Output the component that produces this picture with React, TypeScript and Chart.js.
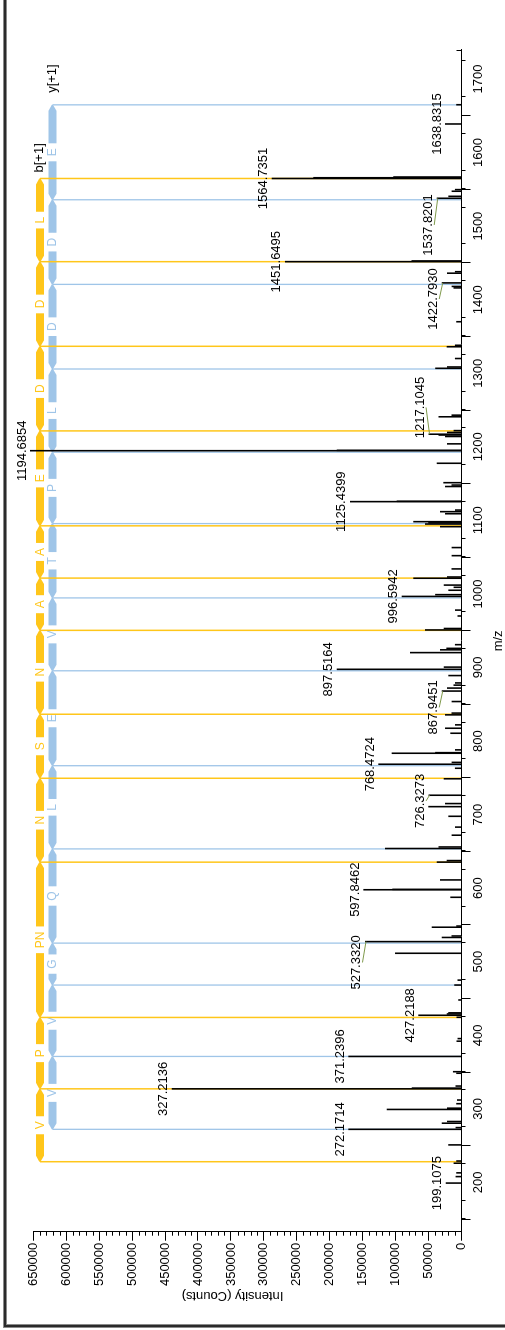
import React, { useEffect, useRef } from "react";
import { Chart, registerables } from "chart.js";

Chart.register(...registerables);

// ---------- data ----------
const mzRange = [133, 1739.4];
const intensityRange = [0, 650000];
const mzTicks = [200, 300, 400, 500, 600, 700, 800, 900, 1000, 1100, 1200, 1300, 1400, 1500, 1600, 1700];
const intensityTicks = [0, 50000, 100000, 150000, 200000, 250000, 300000, 350000, 400000, 450000, 500000, 550000, 600000, 650000];
const mzMinorStep = 25;
const intensityMinorStep = 10000;

const peakMz = [
  199.1075, 207.9, 213.0, 226.1, 229.1, 251.0, 272.1714, 274.5, 280.5, 282.8,
  299.2, 300.9, 307.0, 312.0, 327.2136, 328.21, 331.0, 348.4, 350.5, 371.2396,
  392.0, 395.5, 424.5, 427.2188, 429.0, 430.5, 448.0, 468.3, 475.0, 511.5,
  527.332, 533.0, 535.0, 546.9, 548.5, 587.6, 597.8462, 598.35, 611.2, 635.4,
  637.5, 653.9, 656.0, 672.0, 683.0, 697.7, 710.8, 715.0, 726.3273, 748.7,
  763.0, 768.4724, 771.0, 783.4, 784.2, 788.0, 810.6, 817.4, 822.0, 835.6,
  838.0, 853.7, 867.9451, 872.0, 876.0, 879.0, 889.0, 897.5164, 900.5, 920.2,
  924.0, 926.0, 931.0, 951.0, 953.0, 970.0, 978.0, 996.5942, 999.0, 1005.0,
  1009.0, 1012.0, 1021.3, 1023.0, 1034.0, 1052.0, 1063.0, 1091.4, 1095.0, 1096.6,
  1098.2, 1109.0, 1111.8, 1114.0, 1125.4399, 1125.94, 1146.0, 1148.0, 1151.2, 1177.6,
  1194.6854, 1195.19, 1204.0, 1214.0, 1216.0, 1217.1045, 1219.5, 1222.0, 1240.8, 1243.0,
  1306.7, 1308.5, 1320.0, 1336.0, 1338.0, 1370.0, 1416.0, 1418.0, 1422.793, 1436.0,
  1438.0, 1451.6495, 1452.65, 1537.8201, 1540.5, 1547.4, 1549.6, 1564.7351, 1565.74, 1566.74,
  1638.8315, 1665.0,
];
const peakIntensity = [
  24000, 9000, 8000, 12000, 8000, 20000, 171800, 9000, 30000, 22000,
  113500, 22000, 8000, 7000, 439900, 75600, 9000, 8000, 13000, 171800,
  7600, 6000, 7600, 65600, 22500, 20000, 5000, 11000, 6000, 100900,
  146500, 30000, 15000, 45200, 8000, 17000, 149000, 105000, 32600, 37600,
  22500, 116100, 35000, 15000, 10000, 20000, 50400, 25000, 50000, 27000,
  10000, 126300, 15000, 106000, 40000, 10000, 17000, 25000, 10000, 25000,
  15000, 15000, 30000, 22000, 12000, 10000, 20000, 189400, 27000, 78200,
  32600, 23000, 10000, 55400, 27000, 6000, 10000, 90800, 40000, 20000,
  12000, 27000, 73200, 22000, 15000, 15000, 15000, 32600, 55400, 50400,
  73200, 25000, 32600, 10000, 169300, 98400, 25000, 15000, 27600, 37600,
  655000, 189400, 22000, 25000, 35000, 50000, 22000, 12000, 34900, 15000,
  39900, 22000, 10000, 22500, 10000, 8000, 12000, 15000, 30000, 22000,
  10000, 268000, 76000, 37600, 20000, 15000, 10000, 288100, 225000, 103500,
  25000, 8000,
];

const labeledMz = [
  199.1075, 272.1714, 327.2136, 371.2396, 427.2188, 527.332, 597.8462, 726.3273, 768.4724, 867.9451,
  897.5164, 996.5942, 1125.4399, 1194.6854, 1217.1045, 1422.793, 1451.6495, 1537.8201, 1564.7351, 1638.8315,
];
const labelAnchorMz = [
  199.1075, 272.1714, 327.2136, 371.2396, 427.2188, 499.0, 597.8462, 718.6, 768.4724, 845.7,
  897.5164, 996.5942, 1125.4399, 1194.6854, 1253.5, 1400.9, 1451.6495, 1501.6, 1564.7351, 1638.8315,
];

const bIonMz = [228.14, 327.21, 424.26, 635.36, 749.4, 836.44, 950.48, 1021.52, 1092.55, 1221.6, 1336.62, 1451.65, 1564.74];
const bResidues = ["V", "P", "PN", "N", "S", "N", "A", "A", "E", "D", "D", "L"];
const yIonMz = [272.17, 371.24, 468.29, 525.31, 653.37, 766.46, 895.5, 994.57, 1095.62, 1192.67, 1305.75, 1420.78, 1535.81, 1664.85];
const yResidues = ["V", "V", "G", "Q", "L", "E", "V", "T", "P", "L", "D", "D", "E"];
const bRowLevel = 640000;
const yRowLevel = 621000;
const bSeriesName = "b[+1]";
const ySeriesName = "y[+1]";
const xTitle = "m/z";
const yTitle = "Intensity (Counts)";

// ---------- style ----------
const FONT = '"Liberation Sans", Arial, sans-serif';
const GOLD = "#FFC61A";
const BLUE = "#9FC5E8";
const W = 1330;
const H = 505;

function intensityAt(m: number): number {
  let best = 0;
  let bd = Infinity;
  peakMz.forEach((p, i) => {
    const d = Math.abs(p - m);
    if (d < bd) {
      bd = d;
      best = peakIntensity[i];
    }
  });
  return best;
}

function drawBar(ctx: CanvasRenderingContext2D, a: number, b: number, v: number, pointAtStart: boolean) {
  const hh = 4;
  const len = b - a;
  if (len <= 0.5) return;
  const t = Math.min(6, len);
  ctx.beginPath();
  if (pointAtStart) {
    ctx.moveTo(a, v - 0.6);
    ctx.lineTo(a + t, v - hh);
    ctx.lineTo(b, v - hh);
    ctx.lineTo(b, v + hh);
    ctx.lineTo(a + t, v + hh);
    ctx.lineTo(a, v + 0.6);
  } else {
    ctx.moveTo(b, v - 0.6);
    ctx.lineTo(b - t, v - hh);
    ctx.lineTo(a, v - hh);
    ctx.lineTo(a, v + hh);
    ctx.lineTo(b - t, v + hh);
    ctx.lineTo(b, v + 0.6);
  }
  ctx.closePath();
  ctx.fill();
}

function drawRow(chart: any, ions: number[], residues: string[], level: number, color: string) {
  const ctx: CanvasRenderingContext2D = chart.ctx;
  const xs = chart.scales.x;
  const ys = chart.scales.y;
  const v = ys.getPixelForValue(level);
  ctx.save();
  ctx.fillStyle = color;
  ctx.font = `12px ${FONT}`;
  ctx.textAlign = "center";
  ctx.textBaseline = "middle";
  for (let i = 0; i < residues.length; i++) {
    const ua = xs.getPixelForValue(ions[i]);
    const ub = xs.getPixelForValue(ions[i + 1]);
    const mid = (ua + ub) / 2;
    const tw = ctx.measureText(residues[i]).width;
    const gap = tw / 2 + 5;
    drawBar(ctx, ua, mid - gap, v, true);
    drawBar(ctx, mid + gap, ub, v, false);
    ctx.fillText(residues[i], mid, v + 0.5);
  }
  ctx.restore();
}

const specPlugin = {
  id: "specPlugin",
  beforeDraw(chart: any) {
    const ctx: CanvasRenderingContext2D = chart.ctx;
    ctx.save();
    ctx.fillStyle = "#ffffff";
    ctx.fillRect(0, 0, chart.width, chart.height);
    ctx.fillStyle = "#8a8a8a";
    ctx.fillRect(2, 3, chart.width, 4);
    ctx.fillRect(2, 3, 4, chart.height);
    ctx.fillStyle = "#2a2a2a";
    ctx.fillRect(3, 4, chart.width, 2);
    ctx.fillRect(3, 4, 2, chart.height);
    ctx.restore();
  },
  beforeDatasetsDraw(chart: any) {
    drawRow(chart, bIonMz, bResidues, bRowLevel, GOLD);
    drawRow(chart, yIonMz, yResidues, yRowLevel, BLUE);
  },
  afterDraw(chart: any) {
    const ctx: CanvasRenderingContext2D = chart.ctx;
    const xs = chart.scales.x;
    const ys = chart.scales.y;
    const area = chart.chartArea;
    ctx.save();
    // minor ticks
    ctx.strokeStyle = "#000";
    ctx.lineWidth = 1;
    ctx.beginPath();
    const m0 = Math.ceil(mzRange[0] / mzMinorStep) * mzMinorStep;
    for (let m = m0; m <= mzRange[1]; m += mzMinorStep) {
      if (m % 100 === 0) continue;
      const u = Math.round(xs.getPixelForValue(m)) + 0.5;
      ctx.moveTo(u, area.bottom);
      ctx.lineTo(u, area.bottom + 4);
    }
    for (let I = intensityMinorStep; I < intensityRange[1]; I += intensityMinorStep) {
      if (I % 50000 === 0) continue;
      const v = Math.round(ys.getPixelForValue(I)) + 0.5;
      ctx.moveTo(area.left - 4, v);
      ctx.lineTo(area.left, v);
    }
    // end cap of m/z axis
    const ue = Math.round(area.right) - 0.5;
    ctx.moveTo(ue, area.bottom - 5);
    ctx.lineTo(ue, area.bottom);
    ctx.stroke();

    // axis titles
    ctx.fillStyle = "#000";
    ctx.font = `13px ${FONT}`;
    ctx.textAlign = "center";
    ctx.textBaseline = "alphabetic";
    ctx.fillText(xTitle, (area.left + area.right) / 2, 502);
    ctx.save();
    ctx.translate(37.5, 232.5);
    ctx.rotate(-Math.PI / 2);
    ctx.fillText(yTitle, 0, 0);
    ctx.restore();

    // series names
    ctx.textAlign = "left";
    ctx.textBaseline = "middle";
    ctx.fillText(bSeriesName, xs.getPixelForValue(bIonMz[bIonMz.length - 1]) + 6, ys.getPixelForValue(bRowLevel));
    ctx.fillText(ySeriesName, xs.getPixelForValue(yIonMz[yIonMz.length - 1]) + 12, ys.getPixelForValue(yRowLevel));

    // peak labels
    ctx.textAlign = "center";
    ctx.textBaseline = "alphabetic";
    labeledMz.forEach((m, i) => {
      const tipV = ys.getPixelForValue(intensityAt(m));
      const base = tipV - 4.5;
      const uc = xs.getPixelForValue(labelAnchorMz[i]);
      const up = xs.getPixelForValue(m);
      ctx.fillStyle = "#000";
      ctx.fillText(m.toFixed(4), uc, base);
      if (Math.abs(labelAnchorMz[i] - m) > 0.01) {
        ctx.strokeStyle = "#7f9a4c";
        ctx.lineWidth = 1;
        ctx.beginPath();
        ctx.moveTo(uc, base + 2);
        ctx.lineTo(up, tipV + 1);
        ctx.stroke();
      }
    });
    ctx.restore();
  },
};

export default function App() {
  const ref = useRef<HTMLCanvasElement | null>(null);
  useEffect(() => {
    const canvas = ref.current;
    if (!canvas) return;
    const tickFont = { family: FONT, size: 13 };
    const chart = new Chart(canvas, {
      type: "bar",
      data: {
        datasets: [
          {
            label: "Spectrum",
            data: peakMz.map((m, i) => ({ x: m, y: peakIntensity[i] })),
            backgroundColor: "#000000",
            barThickness: 1.6,
            grouped: false,
            borderWidth: 0,
            inflateAmount: 0,
            clip: false,
            order: 0,
          } as any,
          {
            label: ySeriesName,
            data: yIonMz.map((m) => ({ x: m, y: yRowLevel })),
            backgroundColor: BLUE,
            barThickness: 1.3,
            grouped: false,
            borderWidth: 0,
            inflateAmount: 0,
            order: 1,
          } as any,
          {
            label: bSeriesName,
            data: bIonMz.map((m) => ({ x: m, y: bRowLevel })),
            backgroundColor: GOLD,
            barThickness: 1.5,
            grouped: false,
            borderWidth: 0,
            inflateAmount: 0,
            order: 2,
          } as any,
        ],
      },
      options: {
        animation: false,
        responsive: false,
        events: [],
        devicePixelRatio: 1,
        layout: { padding: { left: 0, right: 50, top: 33.3, bottom: 0 } },
        plugins: { legend: { display: false }, tooltip: { enabled: false } },
        scales: {
          x: {
            type: "linear",
            min: mzRange[0],
            max: mzRange[1],
            offset: false,
            position: "bottom",
            afterFit: (s: any) => {
              s.height = 43.5;
            },
            afterBuildTicks: (s: any) => {
              s.ticks = mzTicks.map((v) => ({ value: v }));
            },
            grid: { display: true, drawOnChartArea: false, drawTicks: true, tickLength: 9, color: "#000", lineWidth: 1 },
            border: { display: true, color: "#000", width: 1 },
            ticks: {
              autoSkip: false,
              maxRotation: 0,
              minRotation: 0,
              color: "#000",
              font: tickFont,
              padding: 0,
              callback: (v: any) => String(v),
            },
          },
          y: {
            type: "linear",
            min: intensityRange[0],
            max: intensityRange[1],
            position: "left",
            afterFit: (s: any) => {
              s.width = 98.3;
            },
            afterBuildTicks: (s: any) => {
              s.ticks = intensityTicks.map((v) => ({ value: v }));
            },
            grid: { display: true, drawOnChartArea: false, drawTicks: true, tickLength: 9, color: "#000", lineWidth: 1 },
            border: { display: true, color: "#000", width: 1 },
            ticks: {
              autoSkip: false,
              color: "#000",
              font: tickFont,
              padding: 2,
              callback: (v: any) => String(v),
            },
          },
        } as any,
      },
      plugins: [specPlugin],
    } as any);
    return () => chart.destroy();
  }, []);

  return (
    <div style={{ position: "absolute", left: 0, top: 0, width: H, height: W, overflow: "hidden", background: "#fff" }}>
      <div
        style={{
          position: "absolute",
          left: 0,
          top: 0,
          width: W,
          height: H,
          transformOrigin: "0 0",
          transform: `translate(0px, ${W}px) rotate(-90deg)`,
        }}
      >
        <canvas ref={ref} width={W} height={H} style={{ display: "block", width: W, height: H }} />
      </div>
    </div>
  );
}
